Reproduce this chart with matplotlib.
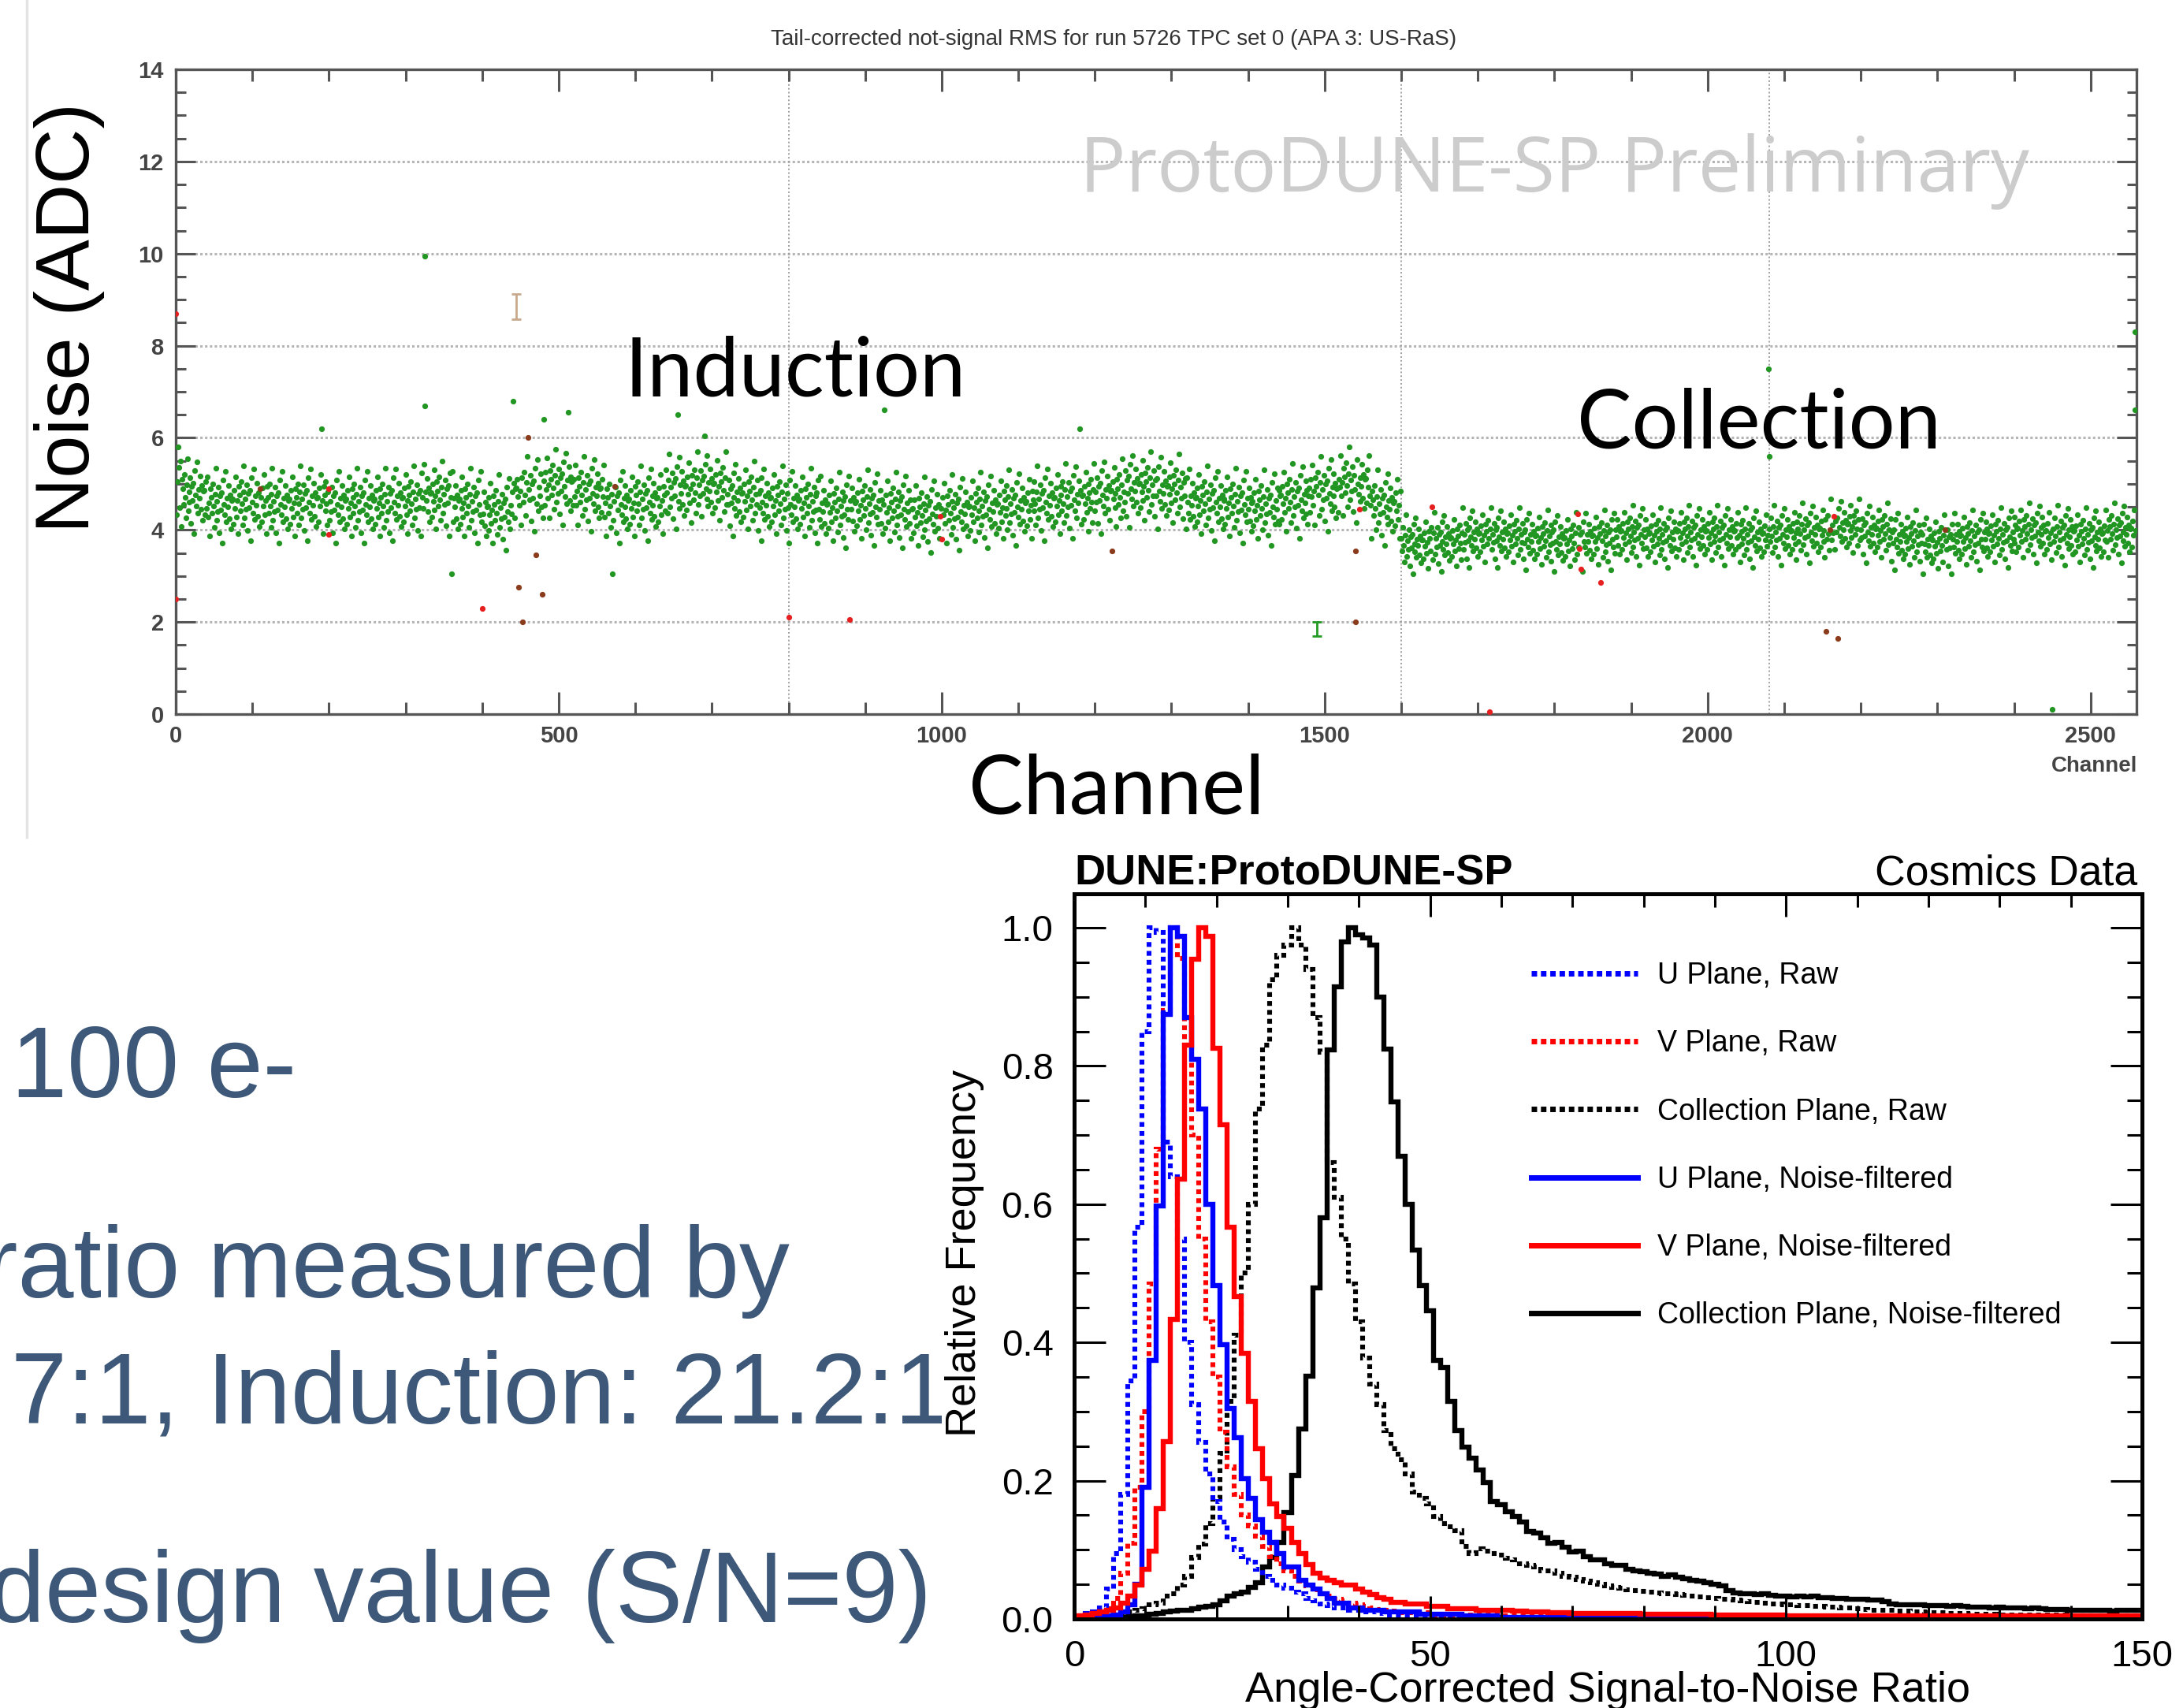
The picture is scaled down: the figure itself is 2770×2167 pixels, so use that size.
import numpy as np
import matplotlib
matplotlib.use('Agg')
import matplotlib.pyplot as plt
from matplotlib.patches import Rectangle
from matplotlib.lines import Line2D
from matplotlib.ticker import MultipleLocator

W, H = 2770, 2167

def fx(x):
    return x / W

def fy(y):
    return 1 - y / H

# ---------------- top panel data: noise per channel ----------------
# band level read per block of 40 channels (induction 0-1599, collection 1600-2559)
ind_means = [4.75, 4.55, 4.6, 4.55, 4.6, 4.55, 4.55, 4.6, 4.7, 4.55,
             4.4, 4.8, 4.95, 4.8, 4.55, 4.6, 4.85, 4.9, 4.7, 4.6,
             4.55, 4.45, 4.5, 4.45, 4.35, 4.4, 4.45, 4.5, 4.6, 4.65,
             4.75, 4.9, 4.85, 4.6, 4.55, 4.5, 4.65, 4.8, 5.0, 4.5]
col_means = [3.7, 3.75, 3.85, 3.85, 3.8, 3.75, 3.8, 3.9, 3.85, 3.9,
             3.9, 3.85, 3.9, 3.95, 4.05, 3.95, 3.8, 3.7, 3.8, 3.85,
             3.95, 3.9, 3.85, 3.95]
# hand-typed scatter pattern (in units of the band width)
jitter = [0.3, -1.1, 0.8, -0.2, 1.6, -0.7, 0.1, -1.8, 0.9, 0.4, -0.5, 1.2, -0.1,
          -1.3, 0.6, 2.1, -0.9, 0.2, -0.4, 1.0, -1.6, 0.5, -0.3, 0.7, -2.2, 1.4,
          0.0, -0.6, 1.9, -1.0, 0.35, -0.15, 1.1, -0.8, 0.55, -1.4, 0.25]
band_width = [0.38, 0.30]   # induction, collection

green_ch = [3, 6, 190, 325, 325, 360, 440, 480, 512, 570, 655, 690, 925, 1180,
            2079, 2450, 2558, 2558, 2080]
green_val = [5.8, 5.5, 6.2, 9.95, 6.7, 3.05, 6.8, 6.4, 6.55, 3.05, 6.5, 6.05, 6.6, 6.2,
             7.5, 0.1, 8.3, 6.6, 5.6]
red_ch = [0, 0, 200, 200, 400, 800, 880, 998, 1000, 1545, 1640, 1830, 1833, 1835, 1860, 2165, 1715]
red_val = [8.7, 2.5, 4.9, 3.9, 2.3, 2.1, 2.05, 4.3, 3.8, 4.45, 4.5, 4.35, 3.6, 3.15, 2.85, 4.3, 0.05]
brown_ch = [110, 448, 453, 460, 470, 478, 573, 1222, 1540, 1540, 2155, 2170, 2160, 2310]
brown_val = [4.9, 2.75, 2.0, 6.0, 3.45, 2.6, 4.95, 3.55, 2.0, 3.55, 1.8, 1.65, 4.0, 4.0]
errbar_ch = [445, 1490]
errbar_val = [8.85, 1.85]
errbar_err = [0.28, 0.15]
errbar_col = ['#c9a98c', '#259a25']
plane_bounds = [800, 1600, 2080]

# ---------------- histogram data (bins of width 1 centred on 0..150) ----------------
u_raw = ([0.003, 0.005, 0.008, 0.010, 0.016, 0.043, 0.095, 0.180, 0.344, 0.567,
          0.850, 1.000, 0.993, 0.690, 0.640, 0.550, 0.400, 0.310, 0.255, 0.210,
          0.170, 0.140, 0.115, 0.100, 0.090, 0.082, 0.072, 0.062, 0.056, 0.049,
          0.044, 0.039, 0.036, 0.030, 0.026, 0.022, 0.019, 0.016, 0.016, 0.013,
          0.013, 0.010, 0.010, 0.008, 0.006, 0.006, 0.006, 0.006, 0.006, 0.006,
          0.006, 0.003, 0.003, 0.003, 0.003, 0.003, 0.003, 0.003, 0.003, 0.003]
         + [0.001] * 20 + [0.0] * 71)
v_raw = ([0.004, 0.005, 0.006, 0.008, 0.010, 0.015, 0.030, 0.066, 0.110, 0.190,
          0.300, 0.485, 0.680, 0.880, 1.000, 0.955, 0.830, 0.700, 0.550, 0.430,
          0.350, 0.270, 0.220, 0.180, 0.150, 0.135, 0.120, 0.105, 0.090, 0.080,
          0.070, 0.062, 0.055, 0.048, 0.042, 0.037, 0.033, 0.029, 0.026, 0.023,
          0.020, 0.018, 0.016, 0.014, 0.012, 0.011, 0.009, 0.009, 0.009, 0.009,
          0.009, 0.006, 0.006, 0.006, 0.006, 0.006, 0.006, 0.006, 0.006, 0.006]
         + [0.004] * 21 + [0.002] * 20 + [0.001] * 50)
c_raw = ([0.002, 0.002, 0.003, 0.003, 0.003, 0.005, 0.006, 0.008, 0.010, 0.012,
          0.015, 0.020, 0.023, 0.033, 0.036, 0.049, 0.062, 0.089, 0.108, 0.138,
          0.174, 0.240, 0.315, 0.410, 0.500, 0.600, 0.738, 0.830, 0.925, 0.960,
          0.975, 1.000, 0.975, 0.940, 0.870, 0.820, 0.660, 0.610, 0.550, 0.485,
          0.430, 0.377, 0.340, 0.310, 0.272, 0.246, 0.230, 0.210, 0.184, 0.174,
          0.167, 0.148, 0.138, 0.133, 0.128, 0.105, 0.095, 0.102, 0.098, 0.095,
          0.092, 0.088, 0.085, 0.080, 0.078, 0.075, 0.070, 0.069, 0.066, 0.062,
          0.060, 0.057, 0.055, 0.052, 0.050, 0.048, 0.046, 0.044, 0.042, 0.041,
          0.040, 0.039, 0.038, 0.037, 0.036, 0.035, 0.034, 0.033, 0.032, 0.031,
          0.030, 0.029, 0.028, 0.027, 0.026, 0.025, 0.024, 0.023, 0.022, 0.022,
          0.021, 0.020, 0.019, 0.019, 0.018, 0.018, 0.017, 0.017, 0.016, 0.016,
          0.015, 0.014, 0.013, 0.013, 0.012, 0.012, 0.011, 0.011, 0.010, 0.010,
          0.009, 0.009, 0.009, 0.008, 0.008, 0.008, 0.007, 0.007, 0.007, 0.007]
         + [0.006] * 10 + [0.005] * 11)
u_filt = ([0.002, 0.002, 0.002, 0.003, 0.003, 0.004, 0.006, 0.010, 0.020, 0.050,
           0.190, 0.374, 0.597, 0.875, 1.000, 0.987, 0.870, 0.810, 0.738, 0.600,
           0.482, 0.397, 0.305, 0.262, 0.203, 0.174, 0.144, 0.125, 0.111, 0.095,
           0.075, 0.075, 0.056, 0.049, 0.043, 0.036, 0.030, 0.023, 0.023, 0.016,
           0.016, 0.013, 0.013, 0.013, 0.010, 0.010, 0.010, 0.010, 0.010, 0.007,
           0.007, 0.007, 0.007, 0.007, 0.007, 0.004, 0.004, 0.004, 0.004, 0.004]
          + [0.002] * 10 + [0.001] * 20 + [0.0] * 61)
v_filt = ([0.004, 0.005, 0.006, 0.008, 0.010, 0.013, 0.016, 0.023, 0.033, 0.049,
           0.072, 0.098, 0.160, 0.256, 0.433, 0.636, 0.830, 0.954, 1.000, 0.987,
           0.826, 0.715, 0.567, 0.466, 0.384, 0.315, 0.246, 0.203, 0.167, 0.148,
           0.131, 0.111, 0.095, 0.079, 0.066, 0.059, 0.056, 0.052, 0.049, 0.049,
           0.043, 0.039, 0.035, 0.031, 0.028, 0.024, 0.024, 0.022, 0.022, 0.022,
           0.018, 0.018, 0.018, 0.015, 0.015, 0.015, 0.015, 0.013, 0.013, 0.013,
           0.012, 0.012, 0.011, 0.011, 0.010, 0.010, 0.010, 0.009, 0.009, 0.009]
          + [0.008] * 10 + [0.007] * 10 + [0.006] * 10 + [0.005] * 51)
c_filt = ([0.001, 0.001, 0.001, 0.002, 0.002, 0.002, 0.002, 0.002, 0.003, 0.004,
           0.005, 0.007, 0.008, 0.010, 0.011, 0.012, 0.013, 0.015, 0.017, 0.018,
           0.020, 0.026, 0.033, 0.036, 0.039, 0.046, 0.052, 0.075, 0.089, 0.111,
           0.154, 0.207, 0.275, 0.351, 0.479, 0.580, 0.823, 0.915, 0.980, 1.000,
           0.990, 0.985, 0.975, 0.900, 0.824, 0.748, 0.669, 0.600, 0.534, 0.482,
           0.446, 0.374, 0.364, 0.315, 0.272, 0.249, 0.233, 0.216, 0.197, 0.170,
           0.165, 0.155, 0.148, 0.140, 0.126, 0.124, 0.118, 0.110, 0.111, 0.104,
           0.097, 0.098, 0.090, 0.086, 0.085, 0.080, 0.077, 0.078, 0.072, 0.070,
           0.068, 0.066, 0.065, 0.062, 0.064, 0.060, 0.058, 0.056, 0.055, 0.052,
           0.050, 0.048, 0.041, 0.038, 0.037, 0.036, 0.035, 0.036, 0.034, 0.033,
           0.033, 0.032, 0.033, 0.032, 0.033, 0.031, 0.031, 0.030, 0.030, 0.029,
           0.029, 0.028, 0.027, 0.027, 0.025, 0.022, 0.021, 0.021, 0.020, 0.020,
           0.019, 0.019, 0.019, 0.018, 0.019, 0.018, 0.017, 0.017, 0.017, 0.016,
           0.017, 0.016, 0.016, 0.016, 0.015, 0.016, 0.015, 0.014, 0.014, 0.014,
           0.013, 0.012, 0.012, 0.012, 0.012, 0.012, 0.011, 0.012, 0.013, 0.013, 0.013])
bin_edges = np.arange(-0.5, 151.0, 1.0)

hist_series = [
    # label, values, colour, dotted
    ('U Plane, Raw', u_raw, '#0000ff', True),
    ('V Plane, Raw', v_raw, '#ff0000', True),
    ('Collection Plane, Raw', c_raw, '#000000', True),
    ('U Plane, Noise-filtered', u_filt, '#0000ff', False),
    ('V Plane, Noise-filtered', v_filt, '#ff0000', False),
    ('Collection Plane, Noise-filtered', c_filt, '#000000', False),
]
draw_order = [5, 2, 1, 0, 3, 4]

slide_lines = ['100 e-', 'ratio measured by', '7:1, Induction: 21.2:1', 'design value (S/N=9)']
slide_x = [14, -20, 14, -14]
slide_y = [1392, 1646, 1805, 2058]

# ---------------- figure ----------------
fig = plt.figure(figsize=(W / 100, H / 100), dpi=100)
fig.patch.set_facecolor('white')

# ---- top panel ----
ax1 = fig.add_axes([fx(223), fy(906), (2711 - 223) / W, (906 - 88) / H])
ax1.set_xlim(0, 2560)
ax1.set_ylim(0, 14)

chan = np.arange(2560)
means = np.array(ind_means + col_means)[chan // 40]
widths = np.where(chan < 1600, band_width[0], band_width[1])
noise = means + widths * np.array(jitter)[chan % len(jitter)]
keep = ~np.isin(chan, green_ch + red_ch + brown_ch + errbar_ch)

green = '#229622'
ax1.plot(chan[keep], noise[keep], 'o', ms=5.2, mew=0, color=green, zorder=3)
ax1.plot(green_ch, green_val, 'o', ms=5.2, mew=0, color=green, zorder=3)
ax1.plot(red_ch, red_val, 'o', ms=5.2, mew=0, color='#e62020', zorder=4)
ax1.plot(brown_ch, brown_val, 'o', ms=5.2, mew=0, color='#8a3b1c', zorder=4)
for c, v, e, col in zip(errbar_ch, errbar_val, errbar_err, errbar_col):
    ax1.errorbar(c, v, yerr=e, fmt='none', ecolor=col, elinewidth=2, capsize=4, capthick=2, zorder=4)

for yg in range(2, 14, 2):
    ax1.axhline(yg, color='#b5b5b5', lw=2.2, ls=(0, (1, 1)), zorder=1)
for xb in plane_bounds:
    ax1.axvline(xb, color='#a0a0a0', lw=1.4, ls=(0, (1, 1.5)), zorder=1)

for sp in ax1.spines.values():
    sp.set_color('#555555')
    sp.set_linewidth(2.4)
ax1.set_xticks([0, 500, 1000, 1500, 2000, 2500])
ax1.xaxis.set_minor_locator(MultipleLocator(100))
ax1.set_yticks(range(0, 15, 2))
ax1.yaxis.set_minor_locator(MultipleLocator(0.5))
ax1.tick_params(which='both', direction='in', top=True, right=True, colors='#555555',
                width=2.2, labelcolor='#444444')
ax1.tick_params(axis='x', which='major', length=20, pad=10)
ax1.tick_params(axis='x', which='minor', length=11)
ax1.tick_params(axis='y', which='major', length=18, pad=11)
ax1.tick_params(axis='y', which='minor', length=9)
for lab in ax1.get_xticklabels() + ax1.get_yticklabels():
    lab.set_fontfamily('Liberation Sans')
    lab.set_fontweight('bold')
    lab.set_fontsize(21)

fig.text(fx(1413), fy(50), 'Tail-corrected not-signal RMS for run 5726 TPC set 0 (APA 3: US-RaS)',
         ha='center', va='center', fontsize=20, color='#333333', family='Liberation Sans')
fig.text(fx(1972), fy(217), 'ProtoDUNE-SP Preliminary', ha='center', va='center',
         fontsize=70, color='#cccccc', family='Open Sans', zorder=0.5)
fig.text(fx(2712), fy(972), 'Channel', ha='right', va='center', fontsize=20,
         color='#444444', family='Liberation Sans', fontweight='bold')
fig.text(fx(88), fy(403), 'Noise (ADC)', rotation=90, ha='center', va='center',
         fontsize=70, color='black', family='Liberation Sans')
fig.text(fx(1009), fy(473), 'Induction', ha='center', va='center', fontsize=75,
         color='black', family='Lato')
fig.text(fx(2232), fy(539), 'Collection', ha='center', va='center', fontsize=75,
         color='black', family='Lato')
fig.text(fx(1417), fy(1003), 'Channel', ha='center', va='center', fontsize=75,
         color='black', family='Lato')

# faint border of the pasted top picture
fig.add_artist(Line2D([fx(34), fx(34)], [fy(0), fy(1062)], color='#e4e4e4', lw=2.5))

# ---- slide text (partly hidden under the right picture) ----
for s, xx, yy in zip(slide_lines, slide_x, slide_y):
    fig.text(fx(xx), fy(yy), s, ha='left', va='baseline', fontsize=92,
             color='#3d5878', family='Liberation Sans', zorder=1)
fig.patches.append(Rectangle((fx(1195), 0), 1 - fx(1195), fy(1062), transform=fig.transFigure,
                             facecolor='white', edgecolor='none', zorder=2))

# ---- bottom right histogram ----
ax2 = fig.add_axes([fx(1363), fy(2054), (2718 - 1363) / W, (2054 - 1134) / H], zorder=3)
ax2.set_xlim(0, 150)
ax2.set_ylim(0, 1.049)
for i in draw_order:
    label, vals, col, dotted = hist_series[i]
    ax2.stairs(vals, bin_edges, color=col, lw=4.4 if dotted else 4.6,
               linestyle=(0, (1.0, 0.85)) if dotted else '-', baseline=None)

handles = [Line2D([], [], color=col, lw=5.0, ls=(0, (1.0, 0.7)) if dotted else '-')
           for label, vals, col, dotted in hist_series]
ax2.legend(handles, [s[0] for s in hist_series], loc='upper left',
           bbox_to_anchor=((1943 - 1363) / 1355, (2054 - 1220) / 920),
           frameon=False, borderpad=0, borderaxespad=0, handlelength=3.6,
           handletextpad=0.66, labelspacing=1.34,
           prop={'family': 'Liberation Sans', 'size': 27})

for sp in ax2.spines.values():
    sp.set_linewidth(3.6)
ax2.set_xticks([0, 50, 100, 150])
ax2.xaxis.set_minor_locator(MultipleLocator(10))
ax2.set_yticks([0.0, 0.2, 0.4, 0.6, 0.8, 1.0])
ax2.set_yticklabels(['0.0', '0.2', '0.4', '0.6', '0.8', '1.0'])
ax2.yaxis.set_minor_locator(MultipleLocator(0.05))
ax2.tick_params(which='both', direction='in', top=True, right=True, width=2.2)
ax2.tick_params(axis='x', which='major', length=21, pad=19)
ax2.tick_params(axis='x', which='minor', length=12)
ax2.tick_params(axis='y', which='major', length=29, pad=19)
ax2.tick_params(axis='y', which='minor', length=14)
for lab in ax2.get_xticklabels() + ax2.get_yticklabels():
    lab.set_fontfamily('Liberation Sans')
    lab.set_fontsize(34)

ax2.set_xlabel('Angle-Corrected Signal-to-Noise Ratio', fontsize=39, family='Liberation Sans')
ax2.xaxis.set_label_coords(0.5, (2054 - 2120) / 920)
ax2.set_ylabel('Relative Frequency', fontsize=39, family='Liberation Sans')
ax2.yaxis.set_label_coords((1249 - 1363) / 1355, 0.504)
ax2.text(0.0, (2054 - 1122) / 920, 'DUNE:ProtoDUNE-SP', transform=ax2.transAxes,
         ha='left', va='baseline', fontsize=39, fontweight='bold', family='Liberation Sans')
ax2.text((2712 - 1363) / 1355, (2054 - 1122) / 920, 'Cosmics Data', transform=ax2.transAxes,
         ha='right', va='baseline', fontsize=38.5, family='Liberation Sans')

fig.savefig('out.png', dpi=100, facecolor='white')
